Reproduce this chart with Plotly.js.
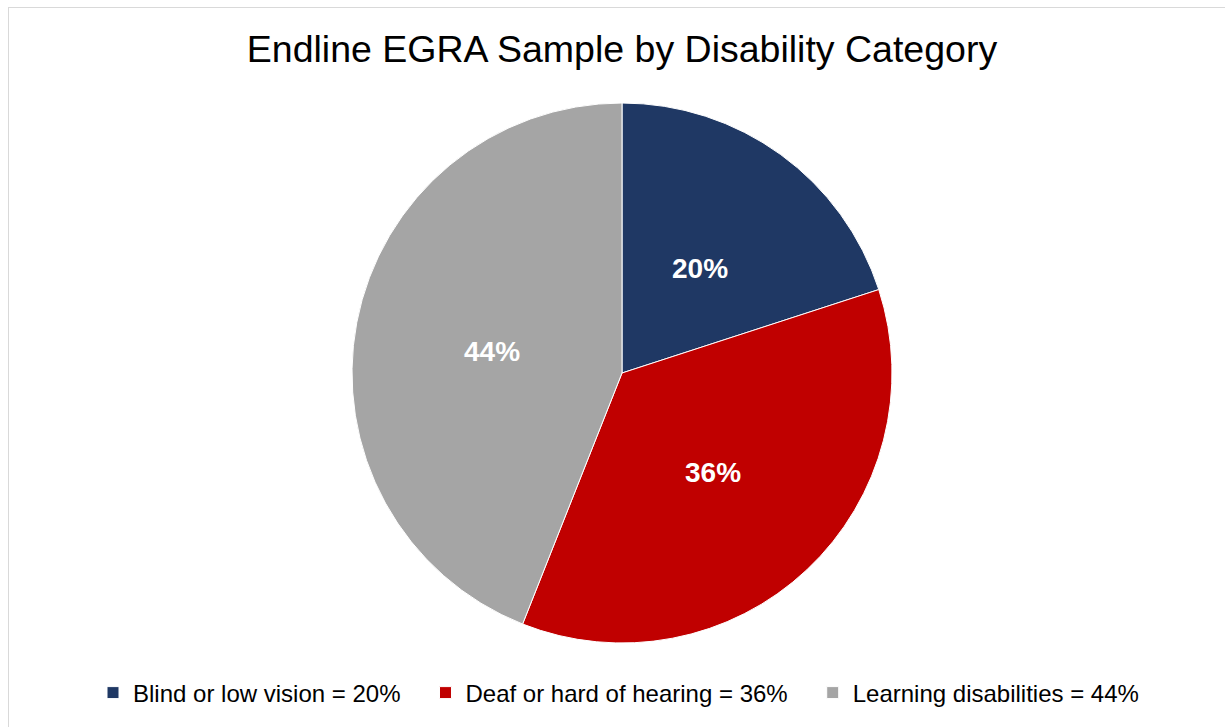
<!DOCTYPE html>
<html>
<head>
<meta charset="utf-8">
<script src="https://cdn.plot.ly/plotly-3.0.1.min.js"></script>
<style>
  html, body { margin: 0; padding: 0; overflow: hidden; background: #fff; }
  #chart { width: 1225px; height: 727px; }
  #frame { position: absolute; left: 8px; top: 7px; width: 1400px; height: 900px;
           border: 1px solid #d9d9d9; pointer-events: none; }
</style>
</head>
<body>
<div id="chart"></div>
<div id="frame"></div>
<script>
const categories = ["Blind or low vision", "Deaf or hard of hearing", "Learning disabilities"];
const shares = [20, 36, 44];
const sliceColors = ["#1F3864", "#C00000", "#A5A5A5"];
const chartTitle = "Endline EGRA Sample by Disability Category";

const W = 1225, H = 727;
const M = { l: 19, r: 0, t: 103, b: 84 };
const plotW = W - M.l - M.r, plotH = H - M.t - M.b;
const R = Math.min(plotW, plotH) / 2;
const labelRadius = 0.49;
const fontFam = "Liberation Sans, Arial, sans-serif";
const pad = "\u00a0\u00a0\u00a0";

const legendLabels = categories.map((c, i) => c + " = " + shares[i] + "%" + (i < categories.length - 1 ? pad : ""));

const total = shares.reduce((a, b) => a + b, 0);
let cum = 0;
const annotations = shares.map((v) => {
  const mid = (cum + v / 2) / total;
  cum += v;
  const th = 2 * Math.PI * mid;
  return {
    xref: "paper", yref: "paper",
    x: 0.5 + labelRadius * R * Math.sin(th) / plotW,
    y: 0.5 + labelRadius * R * Math.cos(th) / plotH,
    xanchor: "center", yanchor: "middle",
    yshift: -3,
    text: "<b>" + v + "%</b>",
    showarrow: false,
    font: { family: fontFam, size: 28, color: "#ffffff" }
  };
});

const trace = {
  type: "pie",
  labels: legendLabels,
  values: shares,
  sort: false,
  direction: "clockwise",
  rotation: 0,
  marker: { colors: sliceColors, line: { color: "#ffffff", width: 1 } },
  textinfo: "none",
  textposition: "none",
  hoverinfo: "label+percent"
};

const layout = {
  width: W,
  height: H,
  margin: M,
  paper_bgcolor: "#ffffff",
  font: { family: fontFam, color: "#000000" },
  title: {
    text: chartTitle,
    font: { family: fontFam, size: 37.5, color: "#000000" },
    x: 622 / W, xanchor: "center", xref: "container",
    y: 1 - 49 / H, yanchor: "middle", yref: "container"
  },
  annotations: annotations,
  showlegend: true,
  legend: {
    orientation: "h",
    xref: "container", yref: "container",
    x: 93 / W, xanchor: "left",
    y: 1 - 693 / H, yanchor: "middle",
    font: { family: fontFam, size: 24, color: "#000000" },
    traceorder: "normal"
  }
};

Plotly.newPlot("chart", [trace], layout, { displayModeBar: false, staticPlot: true });
</script>
</body>
</html>
